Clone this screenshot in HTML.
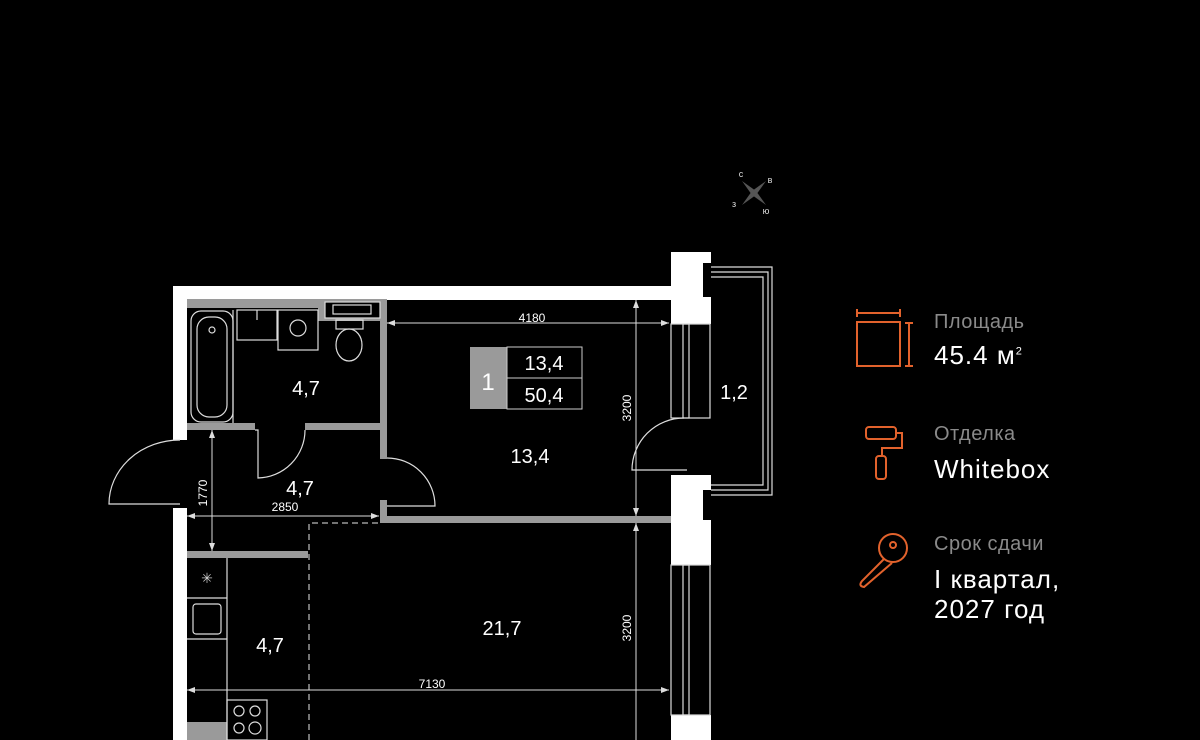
<!DOCTYPE html>
<html><head><meta charset="utf-8"><style>
html,body{margin:0;padding:0;background:#000;}
body{width:1200px;height:740px;position:relative;overflow:hidden;font-family:"Liberation Sans",sans-serif;}
.t{position:absolute;left:934px;color:#fff;white-space:nowrap;}
.g{color:#8a8a8a;font-size:20px;letter-spacing:0.5px;}
.w{font-size:26px;letter-spacing:1px;}
</style></head><body>
<svg width="1200" height="740" style="position:absolute;left:0;top:0" xmlns="http://www.w3.org/2000/svg">
<g fill="#fff">
<rect x="173" y="286" width="498" height="14"/>
<rect x="173" y="286" width="14" height="154"/>
<rect x="173" y="508" width="14" height="232"/>
<rect x="671" y="252" width="40" height="72"/>
<rect x="671" y="475" width="40" height="90"/>
<rect x="671" y="715" width="40" height="25"/>
</g>
<rect x="703" y="263" width="8" height="34" fill="#000"/>
<rect x="703" y="490" width="8" height="30" fill="#000"/>
<g fill="#9a9a9a">
<rect x="187" y="299" width="198" height="9"/>
<rect x="318" y="299" width="67" height="22"/>
<rect x="380" y="299" width="7" height="160"/>
<rect x="380" y="500" width="7" height="23"/>
<rect x="187" y="423" width="68" height="7"/>
<rect x="305" y="423" width="80" height="7"/>
<rect x="380" y="516" width="291" height="7"/>
<rect x="187" y="551" width="121" height="7"/>
<rect x="187" y="722" width="40" height="18"/>
</g>
<g fill="none" stroke="#ddd" stroke-width="1.2">
<rect x="325" y="302" width="55" height="16" fill="#000"/>
<rect x="333" y="305" width="38" height="9"/>
<rect x="191" y="311" width="42" height="111" rx="10"/>
<rect x="197" y="317" width="30" height="100" rx="12"/>
<circle cx="212" cy="330" r="3"/>
<rect x="237" y="310" width="40" height="30"/>
<line x1="257" y1="310" x2="257" y2="320"/>
<rect x="278" y="310" width="40" height="40"/>
<circle cx="298" cy="328" r="8"/>
<rect x="336" y="320" width="27" height="9"/>
<ellipse cx="349" cy="345" rx="13" ry="16"/>
<line x1="233" y1="310" x2="233" y2="423"/>
<path d="M255 430 L258 430 L258 478 A48 48 0 0 0 305 430"/>
<path d="M387 458 A48 48 0 0 1 435 506 L387 506"/>
<path d="M180 504 L109 504 A71 64 0 0 1 180 440"/>
<path d="M687 470 L632 470 A52 52 0 0 1 684 418"/>
<rect x="671" y="324" width="39" height="94"/>
<rect x="683" y="324" width="6" height="94"/>
<rect x="671" y="565" width="39" height="150"/>
<rect x="683" y="565" width="6" height="150"/>
<path d="M711 267 H772 V495 H711"/>
<path d="M711 272 H768 V490 H711"/>
<path d="M711 277 H763 V485 H711"/>
<line x1="227" y1="558" x2="227" y2="740"/>
<line x1="187" y1="598" x2="227" y2="598"/>
<line x1="187" y1="639" x2="227" y2="639"/>
<rect x="193" y="604" width="28" height="30" rx="3"/>
<rect x="227" y="700" width="40" height="40"/>
<circle cx="239" cy="711" r="5"/><circle cx="255" cy="711" r="5"/>
<circle cx="239" cy="728" r="5"/><circle cx="255" cy="728" r="6"/>
</g>
<path d="M309 740 V523 H380" fill="none" stroke="#999" stroke-width="1.5" stroke-dasharray="6,4"/>
<text x="207" y="583" fill="#ccc" font-size="14" text-anchor="middle">✳</text>
<g stroke="#ddd" stroke-width="1">
<line x1="387" y1="323" x2="669" y2="323"/>
<line x1="636" y1="300" x2="636" y2="516"/>
<line x1="636" y1="523" x2="636" y2="740"/>
<line x1="212" y1="430" x2="212" y2="551"/>
<line x1="187" y1="516" x2="379" y2="516"/>
<line x1="187" y1="690" x2="669" y2="690"/>
</g>
<g fill="#ddd">
<path d="M387 323 l8 -3 v6z"/><path d="M669 323 l-8 -3 v6z"/>
<path d="M187 516 l8 -3 v6z"/><path d="M379 516 l-8 -3 v6z"/>
<path d="M187 690 l8 -3 v6z"/><path d="M669 690 l-8 -3 v6z"/>
<path d="M636 300 l-3 8 h6z"/><path d="M636 516 l-3 -8 h6z"/>
<path d="M636 523 l-3 8 h6z"/><path d="M212 551 l-3 -8 h6z"/><path d="M212 430 l-3 8 h6z"/>
</g>
<g fill="#fff" font-size="12" text-anchor="middle">
<text x="532" y="322">4180</text>
<text x="285" y="511">2850</text>
<text x="432" y="688">7130</text>
<text transform="translate(631,408) rotate(-90)">3200</text>
<text transform="translate(631,628) rotate(-90)">3200</text>
<text transform="translate(207,493) rotate(-90)">1770</text>
</g>
<g fill="#fff" font-size="20" text-anchor="middle">
<text x="306" y="395">4,7</text>
<text x="530" y="463">13,4</text>
<text x="300" y="495">4,7</text>
<text x="502" y="635">21,7</text>
<text x="270" y="652">4,7</text>
<text x="734" y="399">1,2</text>
</g>
<rect x="470" y="347" width="37" height="62" fill="#9a9a9a"/>
<rect x="507" y="347" width="75" height="62" fill="none" stroke="#ccc"/>
<line x1="507" y1="378" x2="582" y2="378" stroke="#ccc"/>
<g fill="#fff" text-anchor="middle">
<text x="488" y="390" font-size="24">1</text>
<text x="544" y="370" font-size="20">13,4</text>
<text x="544" y="402" font-size="20">50,4</text>
</g>
<g transform="translate(754,193)">
<path d="M-12 -12 L2 -2 L12 12 L-2 2Z M12 -12 L2 2 L-12 12 L-2 -2Z" fill="#555"/>
<g fill="#ddd" font-size="9" text-anchor="middle">
<text x="-13" y="-16">с</text><text x="16" y="-10">в</text>
<text x="-20" y="14">з</text><text x="12" y="21">ю</text>
</g></g>
<g fill="none" stroke="#e2622c" stroke-width="2">
<rect x="857" y="322" width="43" height="44"/>
<line x1="857" y1="313" x2="900" y2="313"/><line x1="857" y1="309" x2="857" y2="317"/><line x1="900" y1="309" x2="900" y2="317"/>
<line x1="909" y1="323" x2="909" y2="366"/><line x1="905" y1="323" x2="913" y2="323"/><line x1="905" y1="366" x2="913" y2="366"/>
<rect x="866" y="427" width="30" height="12" rx="3"/>
<path d="M896 433 h6 v15 h-20 v8"/>
<rect x="876" y="456" width="10" height="23" rx="3"/>
<circle cx="893" cy="548" r="14"/><circle cx="893" cy="545" r="3"/>
<path d="M884 559 L862 581 q-4 5 2 6 L892 563"/>
</g>
</svg>
<div class="t g" style="top:311px">Площадь</div>
<div class="t w" style="top:340px">45.4 м<sup style="font-size:11px">2</sup></div>
<div class="t g" style="top:423px">Отделка</div>
<div class="t w" style="top:454px">Whitebox</div>
<div class="t g" style="top:533px">Срок сдачи</div>
<div class="t w" style="top:564px">I квартал,</div>
<div class="t w" style="top:594px">2027 год</div>
</body></html>
